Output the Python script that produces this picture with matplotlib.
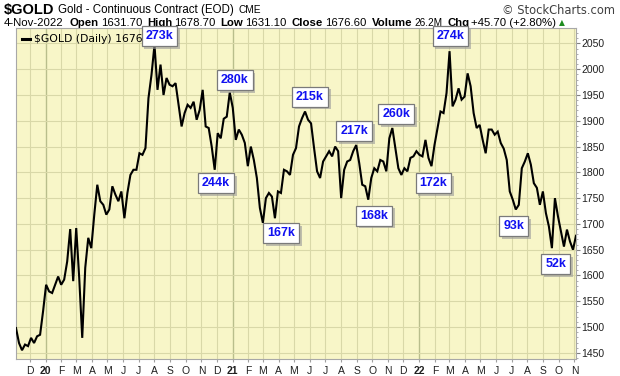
import numpy as np
import pandas as pd
import matplotlib
matplotlib.use('Agg')
import matplotlib.pyplot as plt
import matplotlib.dates as mdates
import matplotlib.patheffects as pe

# ---------------- data ----------------
values = [
    1498, 1469, 1455, 1466, 1463, 1479, 1469, 1482, 1485, 1531,
    1582, 1569, 1566, 1582, 1598, 1582, 1592, 1627, 1690, 1589,
    1692, 1595, 1479, 1615, 1673, 1653, 1718, 1776, 1744, 1737,
    1718, 1728, 1773, 1757, 1744, 1763, 1711, 1760, 1795,
    1805, 1805, 1837, 1834, 1847, 1944, 1989, 2047, 1960, 2009,
    1950, 1983, 1970, 1967, 1973, 1931, 1889, 1915, 1931, 1925,
    1937, 1902, 1921, 1960, 1889, 1886, 1850, 1805, 1876, 1866,
    1904, 1908, 1955, 1925, 1863, 1883, 1873, 1857,
    1812, 1850, 1824, 1789, 1731, 1702, 1750, 1760, 1753, 1711,
    1763, 1760, 1805, 1802, 1795, 1834, 1847, 1889, 1905, 1918,
    1902, 1895, 1847, 1802, 1789, 1821, 1831, 1841, 1831, 1850,
    1841, 1750, 1805, 1821, 1824, 1841, 1853, 1818,
    1776, 1773, 1747, 1789, 1808, 1802, 1824, 1821, 1802, 1866,
    1886, 1847, 1808, 1795, 1808, 1802, 1828, 1831, 1841, 1834,
    1831, 1863, 1828, 1812, 1853, 1886, 1918, 1915, 1954, 2035,
    1928, 1941, 1963, 1941, 1947, 1992, 1967, 1915,
    1886, 1892, 1863, 1837, 1883, 1883, 1873, 1879, 1857, 1846,
    1824, 1763, 1747, 1728, 1737, 1808, 1821, 1837, 1815, 1779,
    1770, 1737, 1763, 1721, 1695, 1653, 1750, 1715, 1686, 1656,
    1689, 1666, 1650, 1677,
]
start_date = '2019-11-04'
end_date = '2022-11-04'

month_labels = ['D', '20', 'F', 'M', 'A', 'M', 'J', 'J', 'A', 'S', 'O', 'N',
                'D', '21', 'F', 'M', 'A', 'M', 'J', 'J', 'A', 'S', 'O', 'N',
                'D', '22', 'F', 'M', 'A', 'M', 'J', 'J', 'A', 'S', 'O', 'N']
y_ticks = [1450, 1500, 1550, 1600, 1650, 1700, 1750, 1800, 1850, 1900, 1950, 2000, 2050]

ann_labels = ['273k', '280k', '244k', '215k', '217k', '260k', '274k',
              '172k', '167k', '168k', '93k', '52k']
ann_idx = [46, 71, 66, 96, 113, 125, 144, 138, 82, 117, 166, 178]
ann_off = [(5, 9), (5, 12), (1, -13), (5, 15), (-2, 14), (4, 14), (1, 15),
           (2, -17), (18, -10), (6, -16), (-2, -17), (4, -16)]

header_line1 = [(r'\$GOLD', 'bold', 10.5, 4), ('Gold - Continuous Contract (EOD)', 'normal', 8.3, 4),
                ('CME', 'normal', 7.3, 0)]
header_line2 = [('4-Nov-2022', 'normal', 8.2, 6), ('Open', 'bold', 8.2, 2), ('1631.70', 'normal', 8.2, 5),
                ('High', 'bold', 8.2, 2), ('1678.70', 'normal', 8.2, 5), ('Low', 'bold', 8.2, 2),
                ('1631.10', 'normal', 8.2, 5), ('Close', 'bold', 8.2, 2), ('1676.60', 'normal', 8.2, 5),
                ('Volume', 'bold', 8.2, 2), ('26.2M', 'normal', 7.3, 5), ('Chg', 'bold', 8.2, 2),
                ('+45.70 (+2.80%)', 'normal', 8.2, 3)]
legend_text = r'\$GOLD (Daily) 1676.60'

# ---------------- figure ----------------
W, H = 620, 376
fig = plt.figure(figsize=(W / 100, H / 100), dpi=100)
fig.patch.set_facecolor('white')
ax = fig.add_axes([16 / W, 1 - 359 / H, 560 / W, (359 - 28.5) / H])
ax.set_facecolor('#F8F6C8')

dates = pd.to_datetime(np.linspace(pd.Timestamp(start_date).value,
                                   pd.Timestamp(end_date).value, len(values)))
line, = ax.plot(dates, values, color='black', lw=1.5, zorder=3, solid_joinstyle='miter')

ax.set_xlim(pd.Timestamp(start_date), pd.Timestamp(end_date))
ax.set_ylim(1438, 2079)

# month grid
month_starts = pd.date_range('2019-12-01', '2022-11-01', freq='MS')
ax.set_xticks(month_starts)
ax.set_xticklabels(month_labels)
for lab in ax.get_xticklabels():
    if lab.get_text().isdigit():
        lab.set_fontweight('bold')
ax.tick_params(axis='x', length=2, color='#A0A0A0', labelsize=7.5, pad=3, labelcolor='#202020')
for d in month_starts:
    col = '#B9BE8C' if d.month == 1 else '#D9D8A8'
    ax.axvline(d, color=col, lw=0.8 if d.month != 1 else 1.0, zorder=1)

ax.yaxis.tick_right()
ax.set_yticks(y_ticks)
ax.set_yticks(np.arange(1440, 2080, 10), minor=True)
ax.tick_params(axis='y', which='major', length=3, color='#808080', labelsize=7.5, pad=1,
               labelcolor='#202020')
ax.tick_params(axis='y', which='minor', length=1.5, color='#A0A0A0')
for v in y_ticks:
    ax.axhline(v, color='#D9D8A8', lw=0.8, zorder=1)

for s in ax.spines.values():
    s.set_color('#A8A8A8')
    s.set_linewidth(0.8)

for lab in ax.get_xticklabels() + ax.get_yticklabels():
    lab.set_family('Liberation Sans')

# legend
leg = ax.legend([line], [legend_text], loc='upper left', frameon=False, handlelength=0.7,
                handletextpad=0.4, borderaxespad=0.15,
                prop={'family': 'DejaVu Sans', 'size': 7.8})
leg.set_zorder(4)
leg.get_lines()[0].set_linewidth(2.2)

# annotations
for lab, i, (dx, dy) in zip(ann_labels, ann_idx, ann_off):
    t = ax.annotate(lab, xy=(dates[i], values[i]), xytext=(dx, dy), textcoords='offset pixels',
                    ha='center', va='center', fontsize=9, fontweight='bold', color='#1010F0',
                    family='Liberation Sans', zorder=10, annotation_clip=False,
                    bbox=dict(boxstyle='square,pad=0.32', fc='white', ec='#7A7A7A', lw=0.9))
    t.get_bbox_patch().set_path_effects([
        pe.SimplePatchShadow(offset=(2, -2), shadow_rgbFace='#9A9A9A', alpha=0.6), pe.Normal()])

# header
renderer = fig.canvas.get_renderer()
x = 4
for s, w, size, gap in header_line1:
    t = ax.text(x / W, 1 - 10 / H, s, transform=fig.transFigure, fontsize=size, fontweight=w,
                va='center', ha='left', color='black', family='Liberation Sans',
                clip_on=False, zorder=2)
    bb = t.get_window_extent(renderer)
    x = bb.x1 + gap
ax.text(615 / W, 1 - 10 / H, '\u00a9 StockCharts.com', transform=fig.transFigure, fontsize=8.3,
        va='center', ha='right', color='#404040', family='DejaVu Sans', clip_on=False, zorder=2)

x = 4
for s, w, size, gap in header_line2:
    t = ax.text(x / W, 1 - 22.5 / H, s, transform=fig.transFigure, fontsize=size, fontweight=w,
                va='center', ha='left', color='black', family='Liberation Sans',
                clip_on=False, zorder=2)
    bb = t.get_window_extent(renderer)
    x = bb.x1 + gap
ax.text(x / W, 1 - 22.5 / H, '\u25b2', transform=fig.transFigure, fontsize=5.5,
        va='center', ha='left', color='#1E8C1E', family='DejaVu Sans', clip_on=False, zorder=2)

fig.savefig('out.png', dpi=100, facecolor='white')
